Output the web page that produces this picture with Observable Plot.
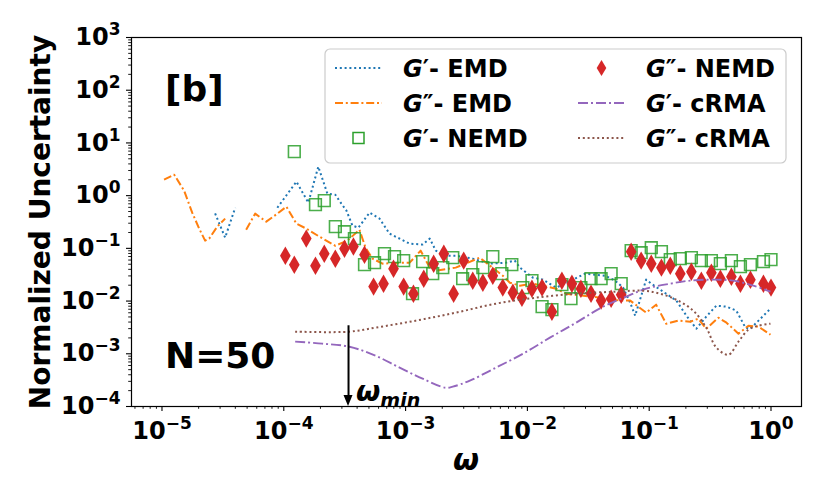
<!DOCTYPE html>
<html><head><meta charset="utf-8">
<script src="https://cdn.jsdelivr.net/npm/d3@7"></script>
<script src="https://cdn.jsdelivr.net/npm/@observablehq/plot@0.6"></script>
<style>
html,body{margin:0;padding:0;background:#fff;}
</style></head><body><div id="chart"></div>
<script>
// ---- data ----
const gpEmdX = [2.73e-5,3.30e-5,3.99e-5,null,8.85e-5,1.27e-4,1.59e-4,1.92e-4,2.28e-4,2.65e-4,2.97e-4,3.27e-4,3.66e-4,4.10e-4,5.06e-4,6.11e-4,7.38e-4,1.08e-3,1.38e-3,1.58e-3,1.77e-3,2.13e-3,2.58e-3,3.56e-3,4.91e-3,6.65e-3,7.88e-3,8.67e-3,1.11e-2,1.34e-2,1.72e-2,2.28e-2,2.97e-2,4.35e-2,5.25e-2,6.11e-2,6.98e-2,7.67e-2,9.44e-2,0.104,0.130,0.167,0.202,0.244,0.294,0.356,0.431,0.52,0.617,0.678,0.76,0.867,0.99];
const gpEmdY = [0.46,0.16,0.59,null,0.59,1.84,0.736,3.55,1.09,1.04,0.705,0.519,0.27,0.247,0.476,0.366,0.19,0.123,0.118,0.153,0.0904,0.0727,0.0727,0.0638,0.0513,0.0535,0.0585,0.0431,0.0278,0.0255,0.018,0.0244,0.0331,0.0303,0.0244,0.018,0.00933,0.00528,0.0255,0.0214,0.0151,0.0102,0.00528,0.00299,0.00506,0.00818,0.00783,0.00657,0.00313,0.00299,0.00389,0.00528,0.00718];

const gppEmdX = [1.04e-5,1.26e-5,1.52e-5,1.77e-5,2.02e-5,2.26e-5,2.44e-5,2.84e-5,3.30e-5,null,4.91e-5,5.82e-5,7.18e-5,8.85e-5,1.05e-4,1.27e-4,1.53e-4,1.96e-4,2.65e-4,3.33e-4,4.18e-4,4.69e-4,5.35e-4,6.47e-4,8.93e-4,1.08e-3,1.33e-3,1.58e-3,1.77e-3,2.58e-3,3.12e-3,4.06e-3,6.28e-3,7.18e-3,8.67e-3,1.11e-2,1.72e-2,2.08e-2,3.95e-2,5.77e-2,6.98e-2,9.44e-2,0.114,0.138,0.173,0.217,0.253,0.294,0.37,0.431,0.541,0.653,0.789,0.99];
const gppEmdY = [2.01,2.5,1.24,0.476,0.237,0.14,0.153,0.258,0.366,null,0.226,0.455,0.321,0.455,0.618,0.294,0.237,0.167,0.112,0.14,0.226,0.103,0.0638,0.0513,0.0535,0.0535,0.0904,0.0431,0.0377,0.0431,0.0513,0.0667,0.0303,0.0223,0.0196,0.0214,0.0172,0.0138,0.0116,0.0102,0.0102,0.00603,0.00855,0.00372,0.00425,0.00406,0.00463,0.00299,0.00484,0.00389,0.00241,0.00341,0.00327,0.0023];

const gpNemdX = [1.22e-4,1.82e-4,2.15e-4,2.65e-4,3.15e-4,3.80e-4,4.60e-4,5.56e-4,6.71e-4,8.11e-4,9.64e-4,1.14e-3,1.38e-3,1.67e-3,2.02e-3,2.44e-3,2.94e-3,3.56e-3,4.31e-3,5.20e-3,6.17e-3,7.45e-3,9.18e-3,1.09e-2,1.32e-2,1.59e-2,1.92e-2,2.28e-2,2.75e-2,3.33e-2,4.03e-2,4.87e-2,5.89e-2,7.11e-2,8.59e-2,0.104,0.126,0.149,0.180,0.222,0.268,0.324,0.384,0.473,0.561,0.678,0.867,1.0];
const gpNemdY = [6.84,0.675,0.804,0.258,0.207,0.153,0.0491,0.0535,0.0793,0.0696,0.0585,0.0138,0.056,0.0331,0.0431,0.0667,0.0266,0.0317,0.0431,0.0696,0.0331,0.0491,0.018,0.0244,0.00783,0.00687,0.0205,0.0111,0.018,0.0266,0.0266,0.0331,0.0214,0.0904,0.0828,0.103,0.0866,0.061,0.0638,0.0667,0.0585,0.0585,0.0513,0.0585,0.045,0.0491,0.056,0.061];

const gppNemdX = [1.03e-4,1.22e-4,1.53e-4,1.82e-4,2.15e-4,2.65e-4,3.15e-4,3.73e-4,4.60e-4,5.46e-4,6.59e-4,7.96e-4,9.64e-4,1.16e-3,1.41e-3,1.70e-3,2.06e-3,2.48e-3,3.00e-3,3.56e-3,4.31e-3,5.20e-3,6.28e-3,7.60e-3,9.02e-3,1.09e-2,1.32e-2,1.59e-2,1.92e-2,2.32e-2,2.75e-2,3.33e-2,4.03e-2,4.87e-2,5.89e-2,7.11e-2,8.59e-2,0.104,0.126,0.149,0.180,0.222,0.268,0.324,0.384,0.473,0.561,0.678,0.867,1.0];
const gppNemdY = [0.0727,0.0491,0.153,0.047,0.0793,0.0638,0.0987,0.108,0.0759,0.0188,0.0214,0.0412,0.0188,0.0138,0.0266,0.0513,0.0793,0.0138,0.0585,0.0244,0.0223,0.0303,0.018,0.0144,0.0116,0.0172,0.018,0.00629,0.0244,0.0214,0.0172,0.0138,0.0102,0.0111,0.0132,0.0866,0.0585,0.0513,0.0431,0.047,0.0331,0.0361,0.0244,0.0346,0.0266,0.029,0.0214,0.0255,0.0214,0.018];

const gpCrmaX = [1.24e-4,2.07e-4,3.46e-4,5.66e-4,8.93e-4,1.38e-3,2.13e-3,2.44e-3,3.37e-3,5.51e-3,9.18e-3,1.53e-2,2.51e-2,4.18e-2,6.47e-2,9.44e-2,0.149,0.217,0.337,0.491,0.718,0.99];
const gpCrmaY = [1.70e-3,1.56e-3,1.36e-3,9.2e-4,5.45e-4,3.37e-4,2.27e-4,2.38e-4,3.09e-4,5.45e-4,1.0e-3,2.02e-3,3.89e-3,7.83e-3,1.21e-2,0.0172,0.0214,0.0244,0.0255,0.0244,0.0196,0.0151];

const gppCrmaX = [1.24e-4,3.46e-4,5.66e-4,1.21e-3,2.58e-3,5.51e-3,1.17e-2,2.51e-2,5.35e-2,8.93e-2,0.123,0.167,0.230,0.294,0.356,0.447,0.541,0.653,0.789,0.99];
const gppCrmaY = [2.63e-3,2.63e-3,3.13e-3,4.25e-3,6.03e-3,8.93e-3,0.0116,0.0138,0.0151,0.0157,0.0138,0.0106,0.00657,0.00313,0.00131,9.62e-4,1.70e-3,2.87e-3,3.41e-3,3.72e-3];

const xMajor = [1e-5,1e-4,1e-3,1e-2,1e-1,1];
const yMajor = [1e-4,1e-3,1e-2,1e-1,1,10,100,1000];
const xDomain = [5.62e-6, 1.78];
const yDomain = [1e-4, 1e3];

const omegaMin = 3.4e-4;     // arrow position
const arrowTop = 3.4e-3;
const arrowBottom = 1e-4;

const seriesNames = ["G′- EMD","G″- EMD","G′- NEMD","G″- NEMD","G′- cRMA","G″- cRMA"];
const colors = {blue:"#1f77b4", orange:"#ff7f0e", green:"#2ca02c", red:"#d62728", purple:"#9467bd", brown:"#8c564b"};

// ---- helpers ----
const zip = (xs, ys) => xs.map((x, i) => ({x, y: ys[i]}));
function minorTicks(k0, k1, lo, hi) {
  const out = [];
  for (let k = k0; k <= k1; k++) for (let m = 2; m <= 9; m++) {
    const v = m * Math.pow(10, k);
    if (v >= lo && v <= hi) out.push(v);
  }
  return out;
}
const xMinor = minorTicks(-6, 0, xDomain[0], xDomain[1]);
const yMinor = minorTicks(-4, 2, yDomain[0], yDomain[1]);
const fmt = d => "10^" + Math.round(Math.log10(d));

const dotted = "2,2.8";
const dashdot = "8,2.8,2,2.8";
const dashdot2 = "10,3,2,3";

const chart = Plot.plot({
  width: 830, height: 498,
  marginTop: 37, marginRight: 29, marginBottom: 92, marginLeft: 131,
  style: {fontFamily: "DejaVu Sans", fontWeight: "bold", fontSize: "24px", color: "black", background: "white"},
  x: {type: "log", domain: xDomain, axis: null},
  y: {type: "log", domain: yDomain, axis: null},
  marks: [
    Plot.axisX({ticks: xMinor, tickSize: 2.8, tickFormat: () => "", label: null, strokeWidth: 0.9}),
    Plot.axisY({ticks: yMinor, tickSize: 2.8, tickFormat: () => "", label: null, strokeWidth: 0.9}),
    Plot.axisX({ticks: xMajor, tickSize: 5, tickPadding: 10, tickFormat: fmt, label: null, strokeWidth: 1.1, fontSize: 24, fontWeight: "bold"}),
    Plot.axisY({ticks: yMajor, tickSize: 5, tickPadding: 6, tickFormat: fmt, label: null, strokeWidth: 1.1, fontSize: 24, fontWeight: "bold"}),
    Plot.line(zip(gpEmdX, gpEmdY), {x: "x", y: "y", stroke: colors.blue, strokeWidth: 2, strokeDasharray: dotted, strokeLinecap: "butt"}),
    Plot.line(zip(gppEmdX, gppEmdY), {x: "x", y: "y", stroke: colors.orange, strokeWidth: 2, strokeDasharray: dashdot, strokeLinecap: "butt"}),
    Plot.dot(zip(gpNemdX, gpNemdY), {x: "x", y: "y", symbol: "square", r: 6.6, stroke: colors.green, fill: "none", strokeWidth: 1.6, strokeOpacity: 0.85}),
    Plot.dot(zip(gppNemdX, gppNemdY), {x: "x", y: "y", symbol: "diamond", r: 5.6, fill: colors.red, stroke: "none"}),
    Plot.line(zip(gpCrmaX, gpCrmaY), {x: "x", y: "y", curve: "catmull-rom", stroke: colors.purple, strokeWidth: 1.9, strokeDasharray: dashdot2, strokeLinecap: "butt"}),
    Plot.line(zip(gppCrmaX, gppCrmaY), {x: "x", y: "y", curve: "catmull-rom", stroke: colors.brown, strokeWidth: 2, strokeDasharray: dotted, strokeLinecap: "butt"}),
    Plot.ruleX([omegaMin], {x: d => d, y1: arrowTop, y2: arrowBottom, stroke: "black", strokeWidth: 2, insetBottom: 6}),
    Plot.frame({stroke: "black", strokeWidth: 1.2})
  ]
});
document.getElementById("chart").appendChild(chart);

const svg = d3.select(chart);
// superscript tick labels
svg.selectAll('g[aria-label="x-axis tick label"] text, g[aria-label="y-axis tick label"] text').each(function() {
  const t = this.textContent;
  const m = t.match(/^10\^(.+)$/);
  if (!m) return;
  const el = d3.select(this);
  el.text(null);
  el.append("tspan").text("10");
  el.append("tspan").attr("dy", -10).attr("font-size", 17).text(m[1].replace("-", "−"));
});

const sx = chart.scale("x"), sy = chart.scale("y");

// arrow head (filled), placed through the plot's scales
const ax = sx.apply(omegaMin), ay = sy.apply(arrowBottom);
svg.append("path").attr("d", `M${ax},${ay}L${ax - 4.5},${ay - 11}L${ax + 4.5},${ay - 11}Z`).attr("fill", "black");

const T = (sel) => sel.attr("font-family", "DejaVu Sans").attr("font-weight", "bold").attr("text-anchor", "start");

// axis labels
T(svg.append("text")).attr("transform", "translate(50,222) rotate(-90)")
  .attr("text-anchor", "middle").attr("font-size", 28).text("Normalized Uncertainty");
T(svg.append("text")).attr("x", 466).attr("y", 470).attr("text-anchor", "middle")
  .attr("font-size", 30).attr("font-style", "italic").text("ω");

// annotations
T(svg.append("text")).attr("x", 165).attr("y", 101).attr("font-size", 36).text("[b]");
T(svg.append("text")).attr("x", 165).attr("y", 368).attr("font-size", 36).text("N=50");
const wm = T(svg.append("text")).attr("x", ax + 8).attr("y", 401)
  .attr("font-size", 28).attr("font-style", "italic");
wm.append("tspan").text("ω");
wm.append("tspan").attr("dy", 6).attr("font-size", 19).text("min");

// legend
const lg = svg.append("g").attr("font-family", "DejaVu Sans").attr("font-weight", "bold").attr("font-size", 24).attr("text-anchor", "start");
lg.append("rect").attr("x", 325).attr("y", 49).attr("width", 461).attr("height", 114).attr("rx", 5)
  .attr("fill", "white").attr("fill-opacity", 0.85).attr("stroke", "#cccccc").attr("stroke-width", 1.2);
const rows = [68, 103, 138];
const cols = [{s0: 335, s1: 382, tx: 403}, {s0: 578, s1: 625, tx: 646}];
const entries = [
  {kind: "line", color: colors.blue, dash: dotted},
  {kind: "line", color: colors.orange, dash: dashdot},
  {kind: "square", color: colors.green},
  {kind: "diamond", color: colors.red},
  {kind: "line", color: colors.purple, dash: dashdot2},
  {kind: "line", color: colors.brown, dash: dotted}
];
entries.forEach((e, i) => {
  const c = cols[Math.floor(i / 3)], y = rows[i % 3], cx = (c.s0 + c.s1) / 2;
  if (e.kind === "line") {
    lg.append("line").attr("x1", c.s0).attr("x2", c.s1).attr("y1", y).attr("y2", y)
      .attr("stroke", e.color).attr("stroke-width", 1.9).attr("stroke-dasharray", e.dash);
  } else if (e.kind === "square") {
    lg.append("rect").attr("x", cx - 5.5).attr("y", y - 5.5).attr("width", 11).attr("height", 11)
      .attr("fill", "none").attr("stroke", e.color).attr("stroke-width", 1.5);
  } else {
    lg.append("path").attr("d", `M${cx},${y - 8}L${cx + 4.8},${y}L${cx},${y + 8}L${cx - 4.8},${y}Z`).attr("fill", e.color);
  }
  const name = seriesNames[i];
  const t = lg.append("text").attr("x", c.tx).attr("y", y + 8.5);
  t.append("tspan").attr("font-style", "italic").text(name[0]);
  t.append("tspan").text(name.slice(1));
});
</script>
</body></html>
